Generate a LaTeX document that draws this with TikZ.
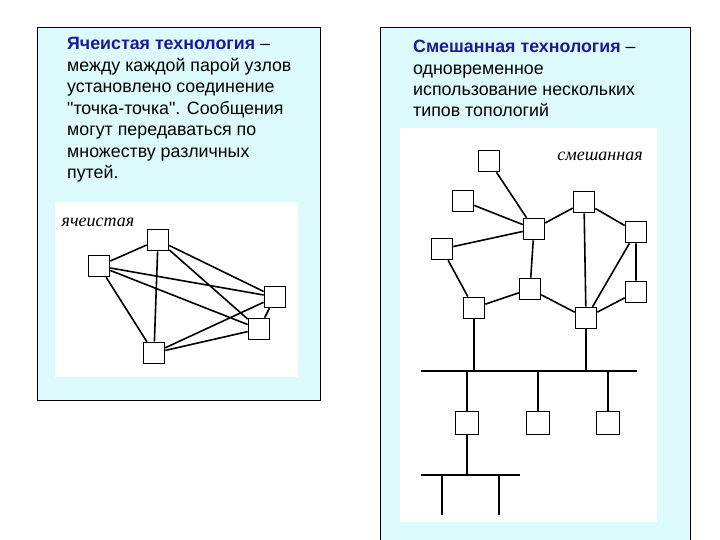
\documentclass[tikz,border=0pt]{standalone}
\usepackage{fontspec}
\setmainfont{Liberation Sans}[Ligatures=TeXOff]
\newfontfamily\serifit{Liberation Serif}
\usetikzlibrary{backgrounds}
\definecolor{panel}{HTML}{DDFAFC}
\definecolor{ttl}{HTML}{1A1A9A}
\begin{document}
\begin{tikzpicture}[x=1pt,y=-1pt,
  nd/.style={draw,fill=white,line width=1.6pt,minimum size=21pt,inner sep=0pt},
  ln/.style={line width=1.6pt},
  txt/.style={anchor=base west,inner sep=0pt,font=\fontsize{17.8}{20}\selectfont},
  lab/.style={font=\serifit\itshape\fontsize{18}{20}\selectfont,inner sep=0pt}]
\useasboundingbox (0,0) rectangle (720,540);
% left text
\node[txt] (l1) at (67,50) {\textbf{\color{ttl}Ячеистая технология} –};
\node[txt] (l2) at (67,72) {между каждой парой узлов};
\node[txt] (l3) at (67,93) {установлено соединение};
\node[txt] (l4) at (67,115) {"точка-точка". Сообщения};
\node[txt] (l5) at (67,136) {могут передаваться по};
\node[txt] (l6) at (67,158) {множеству различных};
\node[txt] (l7) at (67,179) {путей.};
% right text
\node[txt] (r1) at (413,53) {\textbf{\color{ttl}Смешанная технология} –};
\node[txt] (r2) at (413,75) {одновременное};
\node[txt] (r3) at (413,96) {использование нескольких};
\node[txt] (r4) at (413,117) {типов топологий};
% mesh
\node[lab] (lm) at (98,222) {ячеистая};
\node[nd] (A) at (158,240) {};
\node[nd] (B) at (99,266) {};
\node[nd] (C) at (275,297) {};
\node[nd] (D) at (259,329) {};
\node[nd] (E) at (154,353) {};
% mixed
\node[lab] (lx) at (600,156) {смешанная};
\node[nd] (n1) at (489,161) {};
\node[nd] (n2) at (463,201) {};
\node[nd] (n3) at (442,249) {};
\node[nd] (n4) at (534,229) {};
\node[nd] (n5) at (584,202) {};
\node[nd] (n6) at (636,232) {};
\node[nd] (n7) at (530,289) {};
\node[nd] (n8) at (474,308) {};
\node[nd] (n9) at (586,318) {};
\node[nd] (n10) at (636,292) {};
\node[nd,minimum size=23pt] (m1) at (467,423) {};
\node[nd,minimum size=23pt] (m2) at (538,423) {};
\node[nd,minimum size=23pt] (m3) at (608,423) {};
\coordinate (b1l) at (421,371);
\coordinate (b1r) at (637,371);
\coordinate (b2l) at (421,475);
\coordinate (b2r) at (520,475);
\begin{scope}[on background layer]
\fill[white] (0,0) rectangle (720,540);
\draw[fill=panel,line width=0.6pt] (37,27) rectangle (320,400);
\fill[panel] (380,27) rectangle (690,540);
\draw[line width=0.6pt] (380,545) -- (380,27) -- (690,27) -- (690,545);
\fill[white] (55,202) rectangle (298,377);
\fill[white] (400,128) rectangle (657,522);
\draw[ln] (A)--(B) (A)--(E) (A)--(C) (A)--(D) (B)--(C) (B)--(D) (B)--(E) (E)--(C) (E)--(D) (C)--(D);
\draw[ln] (n1)--(n4) (n2)--(n4) (n3)--(n4) (n4)--(n5) (n4)--(n7) (n3)--(n8) (n8)--(n7) (n7)--(n9) (n5)--(n9) (n5)--(n6) (n6)--(n9) (n6)--(n10) (n10)--(n9);
\draw[ln] (b1l)--(b1r);
\draw[ln] (n8)--(474,371) (n9)--(586,371);
\draw[ln] (467,371)--(m1) (538,371)--(m2) (608,371)--(m3);
\draw[ln] (b2l)--(b2r) (m1)--(467,475) (442,475)--(442,515) (499,475)--(499,515);
\end{scope}
\end{tikzpicture}
\end{document}
